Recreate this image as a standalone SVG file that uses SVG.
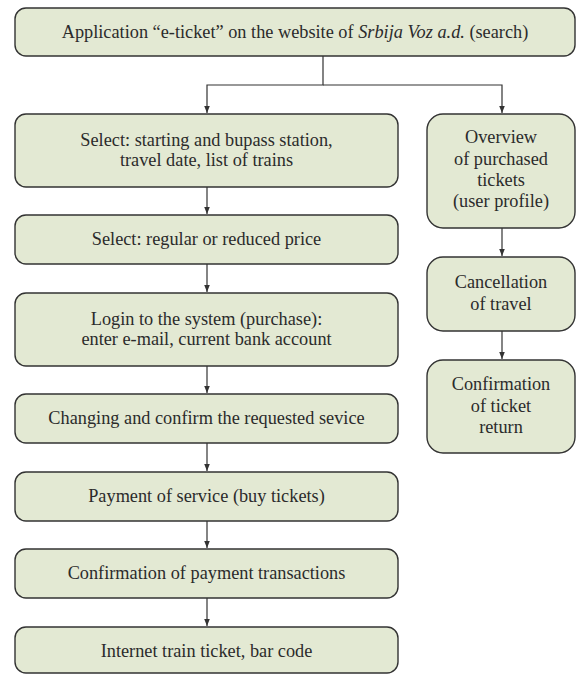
<svg xmlns="http://www.w3.org/2000/svg" width="578" height="674" viewBox="0 0 578 674">
<style>
.box{fill:#e3e9d3;stroke:#333333;stroke-width:1.4}
.t{font-family:"Liberation Serif","Times New Roman",serif;font-size:18.3px;fill:#2b2b2b;text-anchor:middle}
.c{fill:none;stroke:#333333;stroke-width:1.2}
</style>
<defs>
<marker id="ah" viewBox="0 0 10 10" refX="10" refY="5" markerWidth="7" markerHeight="9" markerUnits="userSpaceOnUse" orient="auto">
<path d="M0,1 L10,5 L0,9 z" fill="#333333"/>
</marker>
</defs>
<rect width="578" height="674" fill="#ffffff"/>
<g id="connectors">
<path class="c" d="M323,56 V85 H207 V113" marker-end="url(#ah)"/>
<path class="c" d="M323,85 H502 V113" marker-end="url(#ah)"/>
<path class="c" d="M207,187 V214" marker-end="url(#ah)"/>
<path class="c" d="M207,264 V292" marker-end="url(#ah)"/>
<path class="c" d="M207,366 V393" marker-end="url(#ah)"/>
<path class="c" d="M207,443 V471" marker-end="url(#ah)"/>
<path class="c" d="M207,521 V548" marker-end="url(#ah)"/>
<path class="c" d="M207,598 V626" marker-end="url(#ah)"/>
<path class="c" d="M502,228 V256" marker-end="url(#ah)"/>
<path class="c" d="M502,331 V359" marker-end="url(#ah)"/>
</g>
<g id="n-top">
<rect class="box" x="15" y="8" width="560" height="48" rx="11"/>
<text class="t" x="295" y="38">Application “e-ticket” on the website of <tspan font-style="italic">Srbija Voz a.d.</tspan> (search)</text>
</g>
<g id="n-select">
<rect class="box" x="15" y="114" width="383" height="73" rx="11"/>
<text class="t" x="206.5" y="146">Select: starting and bupass station,</text>
<text class="t" x="206.5" y="166">travel date, list of trains</text>
</g>
<g id="n-price">
<rect class="box" x="15" y="215" width="383" height="49" rx="11"/>
<text class="t" x="206.5" y="245">Select: regular or reduced price</text>
</g>
<g id="n-login">
<rect class="box" x="15" y="293" width="383" height="73" rx="11"/>
<text class="t" x="206.5" y="325">Login to the system (purchase):</text>
<text class="t" x="206.5" y="345">enter e-mail, current bank account</text>
</g>
<g id="n-change">
<rect class="box" x="15" y="394" width="383" height="49" rx="11"/>
<text class="t" x="206.5" y="424">Changing and confirm the requested sevice</text>
</g>
<g id="n-payment">
<rect class="box" x="15" y="472" width="383" height="49" rx="11"/>
<text class="t" x="206.5" y="502">Payment of service (buy tickets)</text>
</g>
<g id="n-confirm-pay">
<rect class="box" x="15" y="549" width="383" height="49" rx="11"/>
<text class="t" x="206.5" y="579">Confirmation of payment transactions</text>
</g>
<g id="n-ticket">
<rect class="box" x="15" y="627" width="383" height="46" rx="11"/>
<text class="t" x="206.5" y="657">Internet train ticket, bar code</text>
</g>
<g id="n-overview">
<rect class="box" x="427" y="114" width="148" height="114" rx="16"/>
<text class="t" x="501" y="143">Overview</text>
<text class="t" x="501" y="165">of purchased</text>
<text class="t" x="501" y="186">tickets</text>
<text class="t" x="501" y="207">(user profile)</text>
</g>
<g id="n-cancel">
<rect class="box" x="427" y="257" width="148" height="74" rx="16"/>
<text class="t" x="501" y="288">Cancellation</text>
<text class="t" x="501" y="310">of travel</text>
</g>
<g id="n-return">
<rect class="box" x="427" y="360" width="148" height="93" rx="16"/>
<text class="t" x="501" y="390">Confirmation</text>
<text class="t" x="501" y="412">of ticket</text>
<text class="t" x="501" y="433">return</text>
</g>
</svg>
